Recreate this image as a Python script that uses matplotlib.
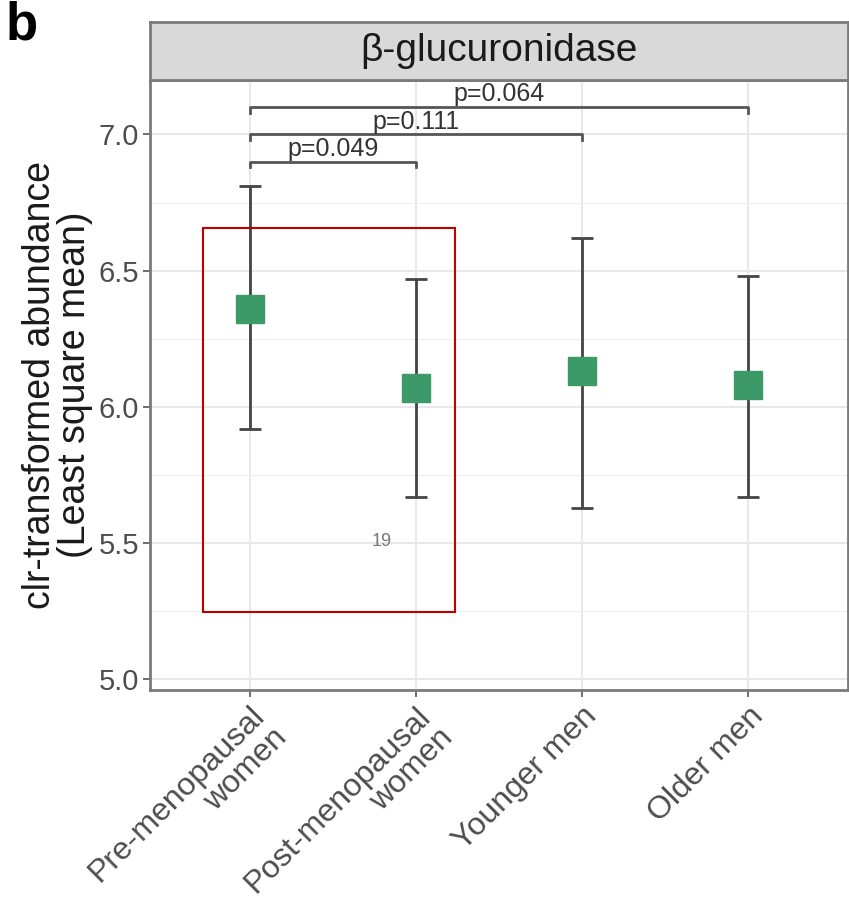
import matplotlib
matplotlib.use("Agg")
import matplotlib.pyplot as plt
from matplotlib.patches import Rectangle
from matplotlib.ticker import MultipleLocator, FormatStrFormatter

plt.rcParams['font.family'] = ['Liberation Sans', 'DejaVu Sans']

# data
groups = ['Pre-menopausal\nwomen', 'Post-menopausal\nwomen', 'Younger men', 'Older men']
lsmean = [6.36, 6.07, 6.13, 6.08]
ci_low = [5.92, 5.67, 5.63, 5.67]
ci_high = [6.81, 6.47, 6.62, 6.48]

# pairwise comparisons: (group a, group b, bracket height, label)
pair_a = [0, 0, 0]
pair_b = [1, 2, 3]
pair_y = [6.90, 7.00, 7.10]
pair_txt = ['p=0.049', 'p=0.111', 'p=0.064']

grey_txt = '#4d4d4d'
green = '#3c9a68'

fig = plt.figure(figsize=(8.49, 9.22), dpi=100)
ax = fig.add_axes([150 / 849, 1 - 690 / 922, 698 / 849, 610 / 922])

x = list(range(len(groups)))
yerr = [[m - lo for m, lo in zip(lsmean, ci_low)],
        [hi - m for m, hi in zip(lsmean, ci_high)]]
ax.errorbar(x, lsmean, yerr=yerr, fmt='none', ecolor='#444444',
            elinewidth=2, capsize=8, capthick=2, zorder=3)
ax.plot(x, lsmean, 's', color=green, ms=20, zorder=4)

# significance brackets
for a, b, y, t in zip(pair_a, pair_b, pair_y, pair_txt):
    ax.plot([a, a, b, b], [y - 0.02, y, y, y - 0.02], color='#555555', lw=2, zorder=3)
    ax.text((a + b) / 2, y + 0.003, t, ha='center', va='bottom',
            fontsize=18, color='#333333')

ax.set_xlim(-0.6, 3.6)
ax.set_ylim(4.96, 7.2)
ax.set_xticks(x)
ax.set_xticklabels(groups, rotation=45, ha='right', va='top',
                   rotation_mode='anchor', fontsize=23, color=grey_txt,
                   multialignment='right', linespacing=1.05)
ax.yaxis.set_major_locator(MultipleLocator(0.5))
ax.yaxis.set_minor_locator(MultipleLocator(0.25))
ax.yaxis.set_major_formatter(FormatStrFormatter('%.1f'))
ax.tick_params(axis='y', labelsize=21, labelcolor=grey_txt, color='#555555',
               length=5, width=1.2, pad=3)
ax.tick_params(axis='y', which='minor', length=0)
ax.tick_params(axis='x', color='#555555', length=5, width=1.2, pad=3)
ax.grid(True, which='major', color='#e6e6e6', lw=1.3, zorder=0)
ax.grid(True, which='minor', axis='y', color='#f0f0f0', lw=0.9, zorder=0)
ax.set_axisbelow(True)
for s in ax.spines.values():
    s.set_color('#7a7a7a')
    s.set_linewidth(2)
ax.set_ylabel('clr-transformed abundance\n(Least square mean)', fontsize=27,
              color='#1a1a1a', labelpad=4, linespacing=0.95)

# facet strip
strip = fig.add_axes([150 / 849, 1 - 80 / 922, 698 / 849, 58 / 922])
strip.set_facecolor('#d9d9d9')
strip.set_xticks([])
strip.set_yticks([])
for s in strip.spines.values():
    s.set_color('#7a7a7a')
    s.set_linewidth(2)
strip.text(0.5, 0.5, 'β-glucuronidase', ha='center', va='center',
           fontsize=28, color='#1a1a1a', transform=strip.transAxes)

fig.text(6 / 849, 1 - 26 / 922, 'b', fontsize=38, fontweight='bold',
         ha='left', va='center', color='black')

# red annotation box overlaid on the figure
fig.patches.append(Rectangle((203 / 849, 1 - 612 / 922), 252 / 849, 384 / 922,
                             transform=fig.transFigure, fill=False,
                             edgecolor='#c00000', lw=1.5, zorder=10))
fig.text(382 / 849, 1 - 541 / 922, '19', fontsize=13, color='#777777',
         ha='center', va='center')

fig.savefig('out.png', dpi=100)
